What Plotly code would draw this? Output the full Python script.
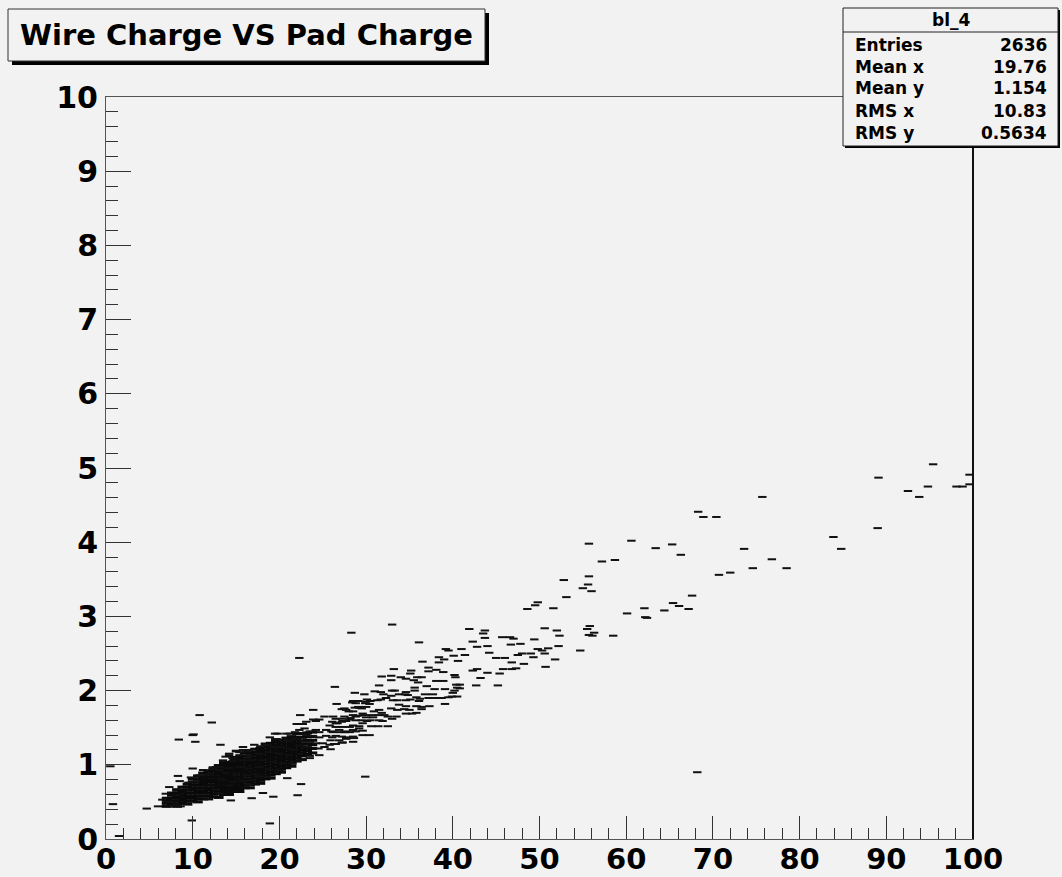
import plotly.graph_objects as go

# ---------------- data ----------------
title_text = "Wire Charge VS Pad Charge"
stats_name = "bl_4"
stats_labels = ["Entries", "Mean x", "Mean y", "RMS x", "RMS y"]
stats_values = ["2636", "19.76", "1.154", "10.83", "0.5634"]

x_ticks = [0, 10, 20, 30, 40, 50, 60, 70, 80, 90, 100]
y_ticks = [0, 1, 2, 3, 4, 5, 6, 7, 8, 9, 10]

# isolated / sparse marks: (pad charge, wire charge)
sparse_high = [
    (95.4, 5.05), (89.1, 4.87), (99.6, 4.91), (99.6, 4.78), (98.1, 4.75), (98.8, 4.75),
    (94.8, 4.75), (92.5, 4.69), (93.8, 4.61), (89.0, 4.19), (83.9, 4.07), (84.8, 3.91),
    (75.7, 4.61), (68.3, 4.41), (68.9, 4.34), (70.4, 4.34), (63.4, 3.92), (65.3, 3.97),
    (66.3, 3.83), (73.6, 3.91), (76.8, 3.77), (74.6, 3.65), (78.5, 3.65), (70.7, 3.56),
    (72.0, 3.59), (67.6, 3.28), (65.4, 3.18), (66.1, 3.14), (67.2, 3.10), (64.4, 3.08),
    (62.1, 3.11), (62.2, 2.99), (62.4, 2.98), (68.2, 0.90),
]
sparse_mid = [
    (55.7, 3.98), (60.6, 4.02), (57.2, 3.74), (58.7, 3.76), (55.7, 3.54), (55.6, 3.43),
    (55.0, 3.38), (56.0, 3.34), (52.8, 3.49), (53.1, 3.26), (49.8, 3.19), (49.5, 3.15),
    (48.6, 3.10), (51.6, 3.11), (60.1, 3.04), (55.8, 2.87), (55.5, 2.83), (56.3, 2.78),
    (55.7, 2.75), (56.1, 2.74), (58.5, 2.74), (54.7, 2.54), (50.6, 2.84), (52.0, 2.81),
    (52.3, 2.74), (52.2, 2.60), (51.0, 2.57), (49.8, 2.56), (50.3, 2.54), (50.6, 2.50),
    (51.8, 2.42), (50.7, 2.32), (49.4, 2.69), (49.0, 2.50), (49.3, 2.45), (47.8, 2.63),
    (48.0, 2.50), (47.5, 2.48), (48.2, 2.36), (46.8, 2.38), (47.3, 2.30), (46.8, 2.29),
    (46.7, 2.62), (47.0, 2.70), (46.6, 2.72), (45.7, 2.72), (46.0, 2.44), (45.0, 2.44),
    (45.8, 2.29), (45.4, 2.23), (44.0, 2.24), (44.2, 2.51), (44.0, 2.60), (43.7, 2.81),
    (43.7, 2.71), (43.5, 2.77), (42.8, 2.59), (42.3, 2.66), (41.9, 2.83), (41.4, 2.48),
    (41.0, 2.56), (42.3, 2.27), (42.8, 2.29), (43.2, 2.17), (42.7, 2.07), (45.2, 2.07),
    (40.8, 2.08), (40.8, 2.03),
]
sparse_band = [
    (33.0, 2.89), (28.3, 2.78), (36.1, 2.65), (39.2, 2.56), (39.5, 2.54), (40.1, 2.47),
    (39.0, 2.42), (38.4, 2.45), (38.4, 2.38), (36.5, 2.39), (40.6, 2.40), (38.1, 2.28),
    (37.2, 2.31), (37.2, 2.26), (38.9, 2.25), (33.2, 2.29), (35.2, 2.27), (35.1, 2.23),
    (32.9, 2.20), (31.8, 2.19), (34.0, 2.18), (34.6, 2.16), (35.9, 2.18), (36.4, 2.18),
    (32.9, 2.14), (35.5, 2.14), (36.0, 2.11), (38.1, 2.13), (38.9, 2.13), (40.2, 2.21),
    (40.3, 2.18), (40.4, 2.08), (40.5, 2.04), (40.2, 2.00), (40.0, 1.97), (31.5, 2.07),
    (37.0, 2.06), (37.9, 2.02), (39.1, 2.02), (35.6, 2.04), (35.6, 2.00), (33.0, 2.00),
    (33.3, 2.00), (34.6, 1.98), (28.7, 1.97), (31.0, 1.99), (31.7, 1.98), (32.0, 1.95),
    (33.8, 1.95), (34.5, 1.95), (34.8, 1.94), (36.8, 1.95), (37.7, 1.95), (37.2, 1.90),
    (38.1, 1.90), (38.7, 1.90), (39.5, 1.91), (39.9, 1.92), (40.5, 1.92), (35.8, 1.91),
    (36.2, 1.89), (36.1, 1.86), (34.6, 1.87), (35.1, 1.88), (33.6, 1.87), (32.9, 1.93),
    (33.1, 1.87), (32.3, 1.90), (31.3, 1.87), (31.7, 1.88), (30.5, 1.86), (30.1, 1.88),
    (29.1, 1.86), (28.5, 1.86), (28.4, 1.84), (28.8, 1.83), (29.9, 1.83), (30.4, 1.82),
    (39.1, 1.82), (37.3, 1.79), (35.8, 1.79), (36.4, 1.78), (36.4, 1.75), (33.8, 1.81),
    (34.6, 1.79), (34.4, 1.75), (35.0, 1.74), (32.9, 1.76), (33.6, 1.74), (31.5, 1.74),
    (30.9, 1.72), (31.8, 1.70), (30.0, 1.78), (29.5, 1.76), (29.1, 1.78), (28.7, 1.77),
    (28.5, 1.72), (28.0, 1.72), (27.5, 1.76), (27.2, 1.75), (26.6, 1.82), (34.6, 1.69),
    (35.3, 1.69), (35.8, 1.70), (32.5, 1.65), (33.5, 1.65), (33.0, 1.62), (31.5, 1.67),
    (32.1, 1.67), (31.5, 1.60), (31.9, 1.59), (30.6, 1.67), (30.8, 1.64), (30.5, 1.60),
    (29.7, 1.67), (30.0, 1.64), (29.5, 1.60), (30.1, 1.59), (28.5, 1.67), (29.0, 1.66),
    (28.2, 1.63), (28.8, 1.60), (27.5, 1.65), (27.2, 1.62), (27.7, 1.59), (27.2, 1.58),
    (26.2, 1.65), (26.5, 1.62), (26.1, 1.58), (26.7, 1.56), (30.6, 1.52), (31.4, 1.52),
    (32.5, 1.52), (29.6, 1.56), (29.2, 1.52), (28.5, 1.53), (28.1, 1.51), (27.3, 1.51),
    (26.5, 1.51), (26.9, 1.47), (26.2, 1.44), (27.5, 1.44), (28.1, 1.44), (28.8, 1.45),
    (29.6, 1.46), (30.4, 1.40), (26.5, 1.39), (27.2, 1.38), (26.9, 1.33), (25.9, 1.33),
    (27.7, 1.37), (28.5, 1.38), (28.5, 1.31), (27.2, 1.30), (26.3, 1.28),
]
sparse_low = [
    (22.3, 2.44), (26.4, 2.05), (29.8, 1.95), (22.4, 1.67), (27.7, 1.74), (29.2, 1.77),
    (30.0, 1.85), (29.6, 1.69), (28.8, 1.65), (28.1, 1.61), (27.3, 1.59), (26.5, 1.56),
    (25.8, 1.53), (25.2, 1.65), (24.6, 1.61), (24.2, 1.59), (23.9, 1.61), (23.1, 1.58),
    (22.7, 1.55), (22.0, 1.55), (23.9, 1.74), (22.3, 1.47), (22.9, 1.49), (23.5, 1.45),
    (21.8, 1.44), (21.2, 1.42), (20.8, 1.42), (19.8, 1.42), (19.5, 1.42), (24.2, 1.47),
    (24.6, 1.44), (25.4, 1.47), (26.0, 1.45), (27.1, 1.44), (27.7, 1.45), (28.5, 1.47),
    (29.2, 1.49), (23.1, 1.41), (23.8, 1.39), (24.6, 1.37), (25.4, 1.39), (26.1, 1.37),
    (27.7, 1.35), (28.6, 1.36), (29.6, 1.40), (18.9, 1.37), (19.6, 1.34), (20.4, 1.33),
    (21.1, 1.32), (21.9, 1.35), (22.7, 1.32), (23.5, 1.31), (24.2, 1.29), (25.0, 1.29),
    (25.8, 1.27), (26.5, 1.28), (27.3, 1.30), (22.3, 1.26), (23.1, 1.24), (24.5, 1.22),
    (25.2, 1.24), (25.9, 1.21), (17.1, 1.27), (17.8, 1.25), (18.6, 1.27), (19.4, 1.24),
    (20.1, 1.24), (20.9, 1.22), (21.7, 1.20), (22.3, 1.15), (23.5, 1.12), (24.6, 1.13),
    (23.5, 1.09), (22.5, 1.07), (15.0, 1.19), (15.8, 1.20), (16.5, 1.20), (14.2, 1.13),
    (15.4, 1.13), (16.5, 1.12), (17.7, 1.15), (18.8, 1.17), (20.0, 1.15), (21.1, 1.13),
    (13.5, 1.06), (14.6, 1.05), (15.8, 1.06), (16.9, 1.06), (18.1, 1.06), (19.2, 1.04),
    (20.4, 1.02), (21.5, 1.02), (13.1, 0.97), (14.2, 0.96), (15.4, 0.97), (16.5, 0.95),
    (17.7, 0.97), (18.8, 0.94), (20.0, 0.93), (13.8, 0.89), (15.0, 0.88), (16.2, 0.86),
    (17.3, 0.87), (18.5, 0.84), (13.5, 0.80), (14.6, 0.77), (15.8, 0.78), (16.9, 0.79),
    (17.7, 0.84), (16.5, 0.73), (14.2, 0.72), (29.9, 0.84), (20.9, 0.82), (22.5, 0.74),
    (22.1, 0.59), (18.1, 0.62), (19.3, 0.57), (16.8, 0.55), (13.2, 0.61),
    (10.8, 1.67), (12.2, 1.57), (10.1, 1.41), (8.4, 1.34), (10.3, 1.31), (13.2, 1.27),
    (15.8, 1.24), (15.0, 1.18), (14.2, 1.15), (15.4, 1.17), (16.2, 1.18), (13.8, 1.11),
    (14.6, 1.09), (10.0, 0.95), (11.2, 0.93), (12.3, 0.95), (13.1, 0.93), (12.7, 0.97),
    (8.3, 0.85), (9.8, 0.83), (10.8, 0.86), (11.9, 0.87), (8.5, 0.78), (9.5, 0.76),
    (10.4, 0.77), (7.3, 0.70), (8.1, 0.67), (6.9, 0.61), (8.1, 0.59), (6.5, 0.53),
    (7.2, 0.50), (7.4, 0.44), (8.6, 0.44), (8.1, 0.46), (11.8, 0.54), (14.4, 0.52),
    (6.0, 0.44), (4.7, 0.41), (0.5, 0.98), (0.8, 0.47), (1.5, 0.04), (9.9, 0.25),
    (18.9, 0.21), (10.0, 1.40),
]

# dense core of the band: one column of marks per pad-charge value
core_col_x = [7.0, 7.6, 8.2, 8.8, 9.4, 10.0, 10.6, 11.2, 11.8, 12.4, 13.0, 13.6, 14.2, 14.8,
              15.4, 16.0, 16.6, 17.2, 17.8, 18.4, 19.0, 19.6, 20.2, 20.8, 21.4, 22.0, 22.6,
              23.2, 23.8]
core_col_y = [
    [0.44, 0.48, 0.52, 0.55],
    [0.47, 0.51, 0.55, 0.59, 0.62],
    [0.44, 0.47, 0.51, 0.55, 0.58, 0.62, 0.66],
    [0.48, 0.52, 0.55, 0.59, 0.63, 0.66, 0.70],
    [0.47, 0.51, 0.55, 0.58, 0.62, 0.66, 0.70, 0.74],
    [0.51, 0.55, 0.58, 0.62, 0.66, 0.69, 0.73, 0.77, 0.81],
    [0.50, 0.54, 0.58, 0.62, 0.65, 0.69, 0.73, 0.77, 0.81, 0.85],
    [0.54, 0.58, 0.62, 0.65, 0.69, 0.73, 0.76, 0.80, 0.84, 0.89],
    [0.54, 0.58, 0.62, 0.66, 0.69, 0.73, 0.77, 0.80, 0.84, 0.88, 0.92],
    [0.57, 0.61, 0.65, 0.69, 0.73, 0.77, 0.80, 0.84, 0.88, 0.92, 0.96],
    [0.56, 0.61, 0.65, 0.69, 0.72, 0.76, 0.80, 0.84, 0.88, 0.91, 0.95, 0.99],
    [0.60, 0.64, 0.68, 0.72, 0.76, 0.80, 0.84, 0.87, 0.91, 0.95, 0.99, 1.03],
    [0.60, 0.64, 0.68, 0.72, 0.76, 0.80, 0.83, 0.87, 0.91, 0.95, 0.99, 1.03],
    [0.64, 0.68, 0.72, 0.76, 0.80, 0.84, 0.88, 0.91, 0.95, 0.99, 1.03, 1.07, 1.10],
    [0.64, 0.68, 0.72, 0.76, 0.80, 0.84, 0.88, 0.92, 0.95, 0.99, 1.03, 1.07, 1.10],
    [0.69, 0.73, 0.77, 0.81, 0.85, 0.89, 0.92, 0.96, 1.00, 1.04, 1.08, 1.12, 1.16],
    [0.69, 0.73, 0.77, 0.81, 0.85, 0.89, 0.93, 0.97, 1.01, 1.04, 1.08, 1.12, 1.16],
    [0.74, 0.78, 0.82, 0.86, 0.90, 0.94, 0.98, 1.02, 1.05, 1.09, 1.13, 1.17, 1.21],
    [0.75, 0.79, 0.83, 0.87, 0.91, 0.95, 0.99, 1.03, 1.06, 1.10, 1.14, 1.18, 1.22],
    [0.81, 0.85, 0.89, 0.93, 0.97, 1.01, 1.05, 1.09, 1.12, 1.16, 1.20, 1.24, 1.28],
    [0.82, 0.86, 0.90, 0.94, 0.98, 1.02, 1.06, 1.10, 1.14, 1.17, 1.21, 1.25, 1.29],
    [0.88, 0.92, 0.96, 1.00, 1.04, 1.08, 1.12, 1.15, 1.19, 1.23, 1.27, 1.31, 1.34],
    [0.90, 0.94, 0.98, 1.02, 1.06, 1.10, 1.14, 1.18, 1.21, 1.25, 1.29, 1.33],
    [0.96, 1.00, 1.04, 1.08, 1.12, 1.16, 1.20, 1.24, 1.28, 1.32, 1.36],
    [0.98, 1.02, 1.06, 1.10, 1.14, 1.18, 1.22, 1.26, 1.30, 1.34, 1.38],
    [1.05, 1.09, 1.13, 1.17, 1.21, 1.25, 1.29, 1.33, 1.37, 1.42],
    [1.07, 1.12, 1.16, 1.20, 1.24, 1.28, 1.32, 1.37, 1.42],
    [1.14, 1.19, 1.23, 1.28, 1.33, 1.38, 1.43],
    [1.16, 1.22, 1.27, 1.33, 1.38, 1.44],
]

# ---------------- assemble ----------------
sparse = sparse_high + sparse_mid + sparse_band + sparse_low
sx = [p[0] for p in sparse]
sy = [p[1] for p in sparse]
cxs, cys = [], []
for cx, col in zip(core_col_x, core_col_y):
    for cy in col:
        cxs.append(cx)
        cys.append(cy)

W, H = 1062, 877
L, R, T, B = 106, 89, 97, 38
PW, PH = W - L - R, H - T - B
BG = "#f2f2f2"
FONT = "DejaVu Sans, Liberation Sans, Arial, sans-serif"


def xp(px):
    return (px - L) / PW


def yp(py):
    return (H - B - py) / PH


fig = go.Figure()
fig.add_trace(go.Scatter(
    x=cxs, y=cys, mode="markers", hoverinfo="skip",
    marker=dict(symbol="line-ew", size=7, color="#0a0a0a",
                line=dict(color="#0a0a0a", width=3)),
))
fig.add_trace(go.Scatter(
    x=sx, y=sy, mode="markers", hoverinfo="skip",
    marker=dict(symbol="line-ew", size=6, color="#111111",
                line=dict(color="#111111", width=2)),
))

fig.update_layout(
    width=W, height=H,
    margin=dict(l=L, r=R, t=T, b=B, pad=0, autoexpand=False),
    paper_bgcolor=BG, plot_bgcolor=BG,
    showlegend=False,
    xaxis=dict(
        range=[0, 100], tickmode="array", tickvals=x_ticks,
        ticktext=[str(v) for v in x_ticks], automargin=False,
        ticks="inside", ticklen=23, tickwidth=1, tickcolor="#333333",
        showline=True, linecolor="#555555", linewidth=1, mirror=True,
        showgrid=False, zeroline=False,
        tickfont=dict(family=FONT, size=29, color="black", weight="bold"),
        ticklabelstandoff=-6,
        minor=dict(ticks="inside", dtick=2, ticklen=11, tickcolor="#333333", tickwidth=1),
    ),
    yaxis=dict(
        range=[0, 10], tickmode="array", tickvals=y_ticks,
        ticktext=[str(v) for v in y_ticks], automargin=False,
        ticks="inside", ticklen=25, tickwidth=1, tickcolor="#333333",
        showline=True, linecolor="#555555", linewidth=1, mirror=True,
        showgrid=False, zeroline=False,
        tickfont=dict(family=FONT, size=30, color="black", weight="bold"),
        ticklabelstandoff=1,
        minor=dict(ticks="inside", dtick=0.2, ticklen=12, tickcolor="#333333", tickwidth=1),
    ),
)

shapes = []
# right frame edge (dark, thicker)
shapes.append(dict(type="line", xref="paper", yref="paper", x0=1, x1=1, y0=0, y1=1,
                   line=dict(color="#111111", width=2)))

# title box with shadow
tx0, tx1, ty0, ty1 = 8, 485, 9, 61
shapes.append(dict(type="rect", xref="paper", yref="paper", layer="above",
                   x0=xp(tx0 + 4), x1=xp(tx1 + 4), y0=yp(ty1 + 4), y1=yp(ty0 + 4),
                   fillcolor="#000000", line=dict(width=0)))
shapes.append(dict(type="rect", xref="paper", yref="paper", layer="above",
                   x0=xp(tx0), x1=xp(tx1), y0=yp(ty1), y1=yp(ty0),
                   fillcolor=BG, line=dict(color="#333333", width=1)))

# stats box with small shadow
bx0, bx1, by0, by1, bsep = 843, 1058, 8, 146, 32
shapes.append(dict(type="rect", xref="paper", yref="paper", layer="above",
                   x0=xp(bx0 + 2), x1=xp(bx1 + 2), y0=yp(by1 + 2), y1=yp(by0 + 2),
                   fillcolor="#000000", line=dict(width=0)))
shapes.append(dict(type="rect", xref="paper", yref="paper", layer="above",
                   x0=xp(bx0), x1=xp(bx1), y0=yp(by1), y1=yp(by0),
                   fillcolor=BG, line=dict(color="#222222", width=1)))
shapes.append(dict(type="line", xref="paper", yref="paper", layer="above",
                   x0=xp(bx0), x1=xp(bx1), y0=yp(bsep), y1=yp(bsep),
                   line=dict(color="#222222", width=1)))
fig.update_layout(shapes=shapes)

ann = []
ann.append(dict(xref="paper", yref="paper", x=xp((tx0 + tx1) / 2), y=yp((ty0 + ty1) / 2),
                text=title_text, showarrow=False, xanchor="center", yanchor="middle",
                font=dict(family=FONT, size=29, color="black", weight="bold")))
ann.append(dict(xref="paper", yref="paper", x=xp((bx0 + bx1) / 2), y=yp(20),
                text=stats_name, showarrow=False, xanchor="center", yanchor="middle",
                font=dict(family=FONT, size=17, color="black", weight="bold")))
row_y = [45, 66.5, 88, 111, 133]
for lab, val, ry in zip(stats_labels, stats_values, row_y):
    ann.append(dict(xref="paper", yref="paper", x=xp(853), y=yp(ry), text=lab,
                    showarrow=False, xanchor="left", yanchor="middle",
                    font=dict(family=FONT, size=17, color="black", weight="bold")))
    ann.append(dict(xref="paper", yref="paper", x=xp(1049), y=yp(ry), text=val,
                    showarrow=False, xanchor="right", yanchor="middle",
                    font=dict(family=FONT, size=17, color="black", weight="bold")))
fig.update_layout(annotations=ann)

fig.write_html(
    "out.html",
    config={"displayModeBar": False},
    post_script="document.body.style.margin='0';document.body.style.background='#f2f2f2';",
)
